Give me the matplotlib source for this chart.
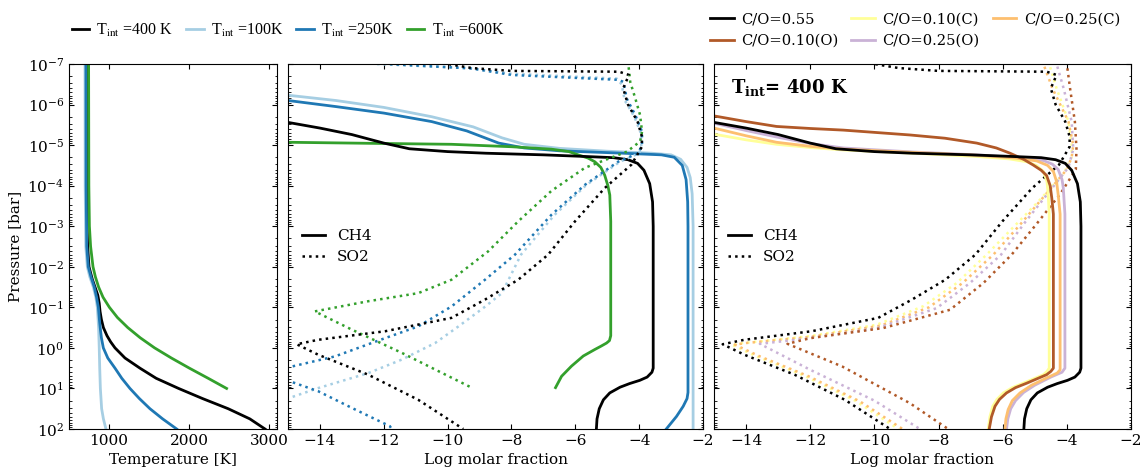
import numpy as np
import matplotlib
matplotlib.use('Agg')
import matplotlib.pyplot as plt
from matplotlib.font_manager import FontProperties
from matplotlib.ticker import LogLocator, NullFormatter

plt.rcParams['font.family'] = 'DejaVu Serif'
plt.rcParams['mathtext.fontset'] = 'dejavuserif'
plt.rcParams['font.size'] = 11

# colours
c_100 = '#a6cee3'
c_250 = '#1f78b4'
c_600 = '#33a02c'
c_10o = '#b15928'
c_10c = '#ffff99'
c_25o = '#cab2d6'
c_25c = '#fdbf6f'

# ---- left panel: T-P profiles (T in K, log10 P in bar)
tp100_T = [700, 702, 710, 729, 760, 804, 835, 854, 870, 878, 884, 892, 908, 930, 962]
tp100_lp = [-7, -4, -2.5, -2.0, -1.75, -1.5, -1.25, -1.0, -0.5, 0, 0.5, 1.0, 1.5, 1.75, 2.0]
tp250_T = [712, 714, 722, 741, 775, 816, 845, 867, 880, 890, 905, 929, 985, 1075, 1160, 1262, 1380, 1512, 1670, 1846]
tp250_lp = [-7, -4, -2.5, -2.0, -1.75, -1.5, -1.25, -1.0, -0.7, -0.5, -0.25, 0, 0.25, 0.5, 0.75, 1.0, 1.25, 1.5, 1.75, 2.0]
tp400_T = [720, 722, 726, 733, 750, 790, 825, 860, 878, 888, 905, 930, 975, 1020, 1075, 1200, 1387, 1590,
           1870, 2170, 2490, 2760, 2950]
tp400_lp = [-7, -4, -3, -2.5, -2.0, -1.7, -1.5, -1.3, -1.1, -0.9, -0.7, -0.5, -0.3, -0.15, 0, 0.25, 0.5, 0.75,
            1.0, 1.25, 1.5, 1.75, 2.0]
tp600_T = [745, 748, 755, 770, 800, 830, 870, 925, 1005, 1105, 1235, 1390, 1570, 1780, 2005, 2240, 2470]
tp600_lp = [-7, -4, -3, -2.5, -2.0, -1.75, -1.5, -1.25, -1.0, -0.75, -0.5, -0.25, 0, 0.25, 0.5, 0.75, 1.0]

# ---- middle panel: CH4 (log molar fraction, log10 P)
ch4_100_x = [-15, -13.5, -12, -10.5, -9.2, -8.3, -7.6, -6.5, -5.0, -3.6, -3.0, -2.7, -2.5, -2.4, -2.34,
             -2.31, -2.31]
ch4_100_lp = [-6.23, -6.1, -5.93, -5.7, -5.45, -5.18, -5.02, -4.92, -4.85, -4.8, -4.76, -4.65, -4.45, -4.2,
              -3.8, -3.0, 2.0]
ch4_250_x = [-15, -13.5, -12, -10.5, -9.4, -8.4, -7.6, -6.5, -4.5, -3.3, -2.9, -2.65, -2.53, -2.48, -2.47,
             -2.47, -2.5, -2.62, -2.83, -3.15]
ch4_250_lp = [-6.1, -5.95, -5.79, -5.58, -5.35, -5.05, -4.93, -4.86, -4.8, -4.76, -4.7, -4.5, -4.15, -3.6,
              -3.0, 1.1, 1.25, 1.44, 1.69, 2.0]
ch4_400_x = [-15, -14, -13, -12, -11.2, -10, -8.8, -7, -5.7, -4.8, -4.35, -4.05, -3.85, -3.67, -3.58, -3.56,
             -3.56, -3.6, -3.75, -3.98, -4.3, -4.6, -4.92, -5.12, -5.25, -5.32, -5.34]
ch4_400_lp = [-5.56, -5.42, -5.26, -5.05, -4.91, -4.84, -4.8, -4.76, -4.72, -4.69, -4.64, -4.55, -4.38,
              -4.05, -3.6, -3.0, 0.5, 0.6, 0.72, 0.8, 0.88, 0.97, 1.11, 1.28, 1.5, 1.75, 2.0]
ch4_600_x = [-15, -12, -9.88, -8, -6.75, -6.2, -5.91, -5.6, -5.39, -5.2, -5.08, -4.98, -4.92, -4.89, -4.89,
             -4.93, -5.02, -5.2, -5.39, -5.75, -6.12, -6.43, -6.62]
ch4_600_lp = [-5.07, -5.04, -5.02, -4.96, -4.9, -4.84, -4.76, -4.68, -4.59, -4.45, -4.26, -4.0, -3.77, -3.12,
              -0.3, -0.18, -0.12, -0.04, 0.04, 0.2, 0.45, 0.7, 0.98]

# ---- middle panel: SO2
so2_400_x = [-11.0, -10.0, -9.24, -8.0, -4.63, -4.32, -4.5, -4.35, -4.05, -3.91, -3.92, -4.24, -5.08, -6.01,
             -6.85, -7.79, -8.83, -9.88, -11.96, -14.05, -14.73, -14.05, -12.49, -10.92, -9.51]
so2_400_lp = [-7.05, -7.0, -6.9, -6.83, -6.81, -6.73, -6.4, -6.0, -5.58, -5.2, -4.95, -4.52, -3.94, -3.12,
              -2.3, -1.68, -1.19, -0.74, -0.41, -0.2, -0.09, 0.17, 0.66, 1.28, 2.0]
so2_250_x = [-12.0, -11.9, -9.24, -8.0, -4.66, -4.49, -4.39, -4.12, -3.91, -3.91, -4.03, -4.66, -5.7, -6.75,
             -7.89, -8.83, -9.88, -10.92, -11.96, -13.53, -15.1, -15.6, -15.1, -14.05, -13.0, -11.81, -11.75]
so2_250_lp = [-7.05, -7.0, -6.89, -6.73, -6.61, -6.56, -6.15, -5.74, -5.33, -5.0, -4.8, -4.59, -4.02, -3.28,
              -2.3, -1.68, -1.02, -0.53, -0.24, 0.21, 0.5, 0.65, 0.78, 1.07, 1.48, 1.93, 2.0]
so2_100_x = [-12.4, -12.3, -9.4, -8.0, -4.7, -4.55, -4.45, -4.15, -3.95, -3.93, -4.0, -4.6, -5.65, -6.65,
             -7.7, -8.3, -8.82, -9.66, -10.39, -11.44, -12.48, -14.05, -14.94, -16.0]
so2_100_lp = [-7.05, -7.0, -6.9, -6.76, -6.64, -6.5, -6.1, -5.7, -5.3, -4.95, -4.8, -4.59, -4.02, -3.28,
              -2.3, -1.35, -1.02, -0.53, -0.12, 0.29, 0.62, 0.99, 1.23, 1.6]
so2_600_x = [-4.45, -4.33, -4.28, -4.12, -3.97, -3.91, -3.97, -4.38, -4.91, -5.7, -6.75, -7.79, -8.73,
             -9.88, -10.92, -12.49, -14.16, -13.0, -11.44, -10.4, -9.3]
so2_600_lp = [-7.05, -6.93, -6.56, -6.15, -5.74, -5.33, -5.09, -4.84, -4.68, -4.44, -3.87, -3.12, -2.38,
              -1.68, -1.35, -1.15, -0.9, -0.45, 0.12, 0.53, 0.96]

# ---- right panel: CH4 for different C/O (Tint = 400 K)
ch4_10o_x = [-15, -14, -13.05, -12, -10.97, -8.89, -7.8, -6.81, -6.2, -5.77, -5.35, -5.05, -4.8, -4.63,
             -4.52, -4.47, -4.42, -4.42, -4.5, -4.63, -5.25, -5.6, -5.88, -6.1, -6.24, -6.35, -6.42]
ch4_10o_lp = [-5.72, -5.58, -5.46, -5.41, -5.37, -5.25, -5.17, -5.05, -4.93, -4.8, -4.65, -4.51, -4.38,
              -4.25, -4.0, -3.7, -3.3, 0.5, 0.58, 0.66, 0.87, 0.98, 1.11, 1.27, 1.44, 1.7, 2.0]
ch4_10c_x = [-15, -14, -13.05, -12, -10.97, -8.8, -6.81, -5.8, -5.25, -4.95, -4.73, -4.62, -4.58, -4.55,
             -4.55, -4.62, -4.73, -5.36, -5.7, -5.98, -6.18, -6.31, -6.4, -6.45]
ch4_10c_lp = [-5.27, -5.13, -5.02, -4.94, -4.88, -4.8, -4.72, -4.66, -4.59, -4.5, -4.35, -4.1, -3.77, -3.3,
              0.5, 0.58, 0.66, 0.87, 0.98, 1.11, 1.27, 1.44, 1.7, 2.0]
ch4_25c_x = [-15, -14, -13.05, -12, -10.97, -8.8, -6.81, -5.6, -4.94, -4.6, -4.42, -4.32, -4.27, -4.21,
             -4.21, -4.3, -4.63, -5.1, -5.46, -5.7, -5.83, -5.9, -5.93]
ch4_25c_lp = [-5.42, -5.23, -5.07, -4.97, -4.9, -4.82, -4.75, -4.68, -4.61, -4.5, -4.35, -4.1, -3.78, -3.3,
              0.54, 0.62, 0.74, 0.92, 1.11, 1.3, 1.52, 1.75, 2.0]
ch4_25o_x = [-15, -14, -13.05, -12, -10.97, -8.8, -6.81, -5.5, -4.73, -4.45, -4.27, -4.15, -4.11, -4.06,
             -4.06, -4.15, -4.5, -5.0, -5.35, -5.6, -5.75, -5.84, -5.88]
ch4_25o_lp = [-5.54, -5.36, -5.2, -5.04, -4.93, -4.83, -4.76, -4.69, -4.62, -4.53, -4.4, -4.15, -3.94, -3.3,
              0.5, 0.6, 0.72, 0.92, 1.1, 1.3, 1.5, 1.75, 2.0]

# ---- right panel: SO2 for different C/O
so2_10c_x = [-4.9, -4.55, -4.32, -3.95, -3.85, -3.85, -4.1, -4.9, -5.7, -6.5, -7.43, -8.47, -9.93, -12.0,
             -14.09, -14.45, -13.7, -12.2, -10.6, -9.25]
so2_10c_lp = [-7.3, -7.0, -6.4, -5.58, -5.0, -4.7, -4.3, -3.6, -2.95, -2.3, -1.6, -1.03, -0.57, -0.29,
              -0.12, -0.08, 0.2, 0.68, 1.3, 2.0]
so2_25c_x = [-5.1, -4.73, -4.45, -3.95, -3.8, -3.85, -4.0, -4.75, -5.5, -6.29, -7.25, -8.3, -9.8, -12.0,
             -14.0, -14.35, -13.6, -12.05, -10.45, -9.12]
so2_25c_lp = [-7.3, -7.0, -6.4, -5.58, -5.0, -4.7, -4.4, -3.7, -3.0, -2.3, -1.6, -1.0, -0.55, -0.27,
              -0.12, -0.08, 0.2, 0.7, 1.32, 2.0]
so2_25o_x = [-4.7, -4.32, -4.1, -3.85, -3.8, -3.95, -4.6, -5.3, -6.05, -7.02, -8.06, -9.9, -12.0, -13.57,
             -12.0, -10.0, -8.58]
so2_25o_lp = [-7.3, -7.0, -6.4, -5.58, -4.9, -4.45, -3.8, -3.1, -2.3, -1.6, -0.98, -0.49, -0.24, -0.1,
              0.54, 1.3, 2.0]
so2_10o_x = [-4.3, -4.0, -3.9, -3.75, -3.7, -3.72, -4.2, -4.95, -5.72, -6.6, -7.64, -9.72, -12.0, -12.71,
             -11.0, -8.9, -7.7]
so2_10o_lp = [-7.3, -7.0, -6.4, -5.58, -4.92, -4.4, -3.8, -3.05, -2.3, -1.6, -0.94, -0.49, -0.24, -0.1,
              0.46, 1.36, 2.0]


def P(lp):
    return 10 ** np.array(lp)


fig = plt.figure(figsize=(11.41, 4.68), dpi=100)
ax1 = fig.add_axes([69 / 1141, 39 / 468, 208 / 1141, 365 / 468])
ax2 = fig.add_axes([288 / 1141, 39 / 468, 415 / 1141, 365 / 468])
ax3 = fig.add_axes([714 / 1141, 39 / 468, 417 / 1141, 365 / 468])

lw = 2.0
dot = dict(ls=':', lw=1.8)

# left
l400, = ax1.plot(tp400_T, P(tp400_lp), color='k', lw=lw)
l100, = ax1.plot(tp100_T, P(tp100_lp), color=c_100, lw=lw)
l250, = ax1.plot(tp250_T, P(tp250_lp), color=c_250, lw=lw)
l600, = ax1.plot(tp600_T, P(tp600_lp), color=c_600, lw=lw)
ax1.set_xlim(500, 3100)
ax1.set_xticks([1000, 2000, 3000])
ax1.set_xlabel('Temperature [K]')
ax1.set_ylabel('Pressure [bar]')

# middle
ax2.plot(ch4_100_x, P(ch4_100_lp), color=c_100, lw=lw)
ax2.plot(ch4_250_x, P(ch4_250_lp), color=c_250, lw=lw)
ax2.plot(ch4_600_x, P(ch4_600_lp), color=c_600, lw=lw)
ax2.plot(ch4_400_x, P(ch4_400_lp), color='k', lw=lw)
ax2.plot(so2_100_x, P(so2_100_lp), color=c_100, **dot)
ax2.plot(so2_250_x, P(so2_250_lp), color=c_250, **dot)
ax2.plot(so2_600_x, P(so2_600_lp), color=c_600, **dot)
ax2.plot(so2_400_x, P(so2_400_lp), color='k', **dot)

# right
ax3.plot(so2_10c_x, P(so2_10c_lp), color=c_10c, **dot)
ax3.plot(so2_25c_x, P(so2_25c_lp), color=c_25c, **dot)
ax3.plot(so2_25o_x, P(so2_25o_lp), color=c_25o, **dot)
ax3.plot(so2_10o_x, P(so2_10o_lp), color=c_10o, **dot)
ax3.plot(so2_400_x, P(so2_400_lp), color='k', **dot)
r10c, = ax3.plot(ch4_10c_x, P(ch4_10c_lp), color=c_10c, lw=lw)
r25o, = ax3.plot(ch4_25o_x, P(ch4_25o_lp), color=c_25o, lw=lw)
r25c, = ax3.plot(ch4_25c_x, P(ch4_25c_lp), color=c_25c, lw=lw)
r10o, = ax3.plot(ch4_10o_x, P(ch4_10o_lp), color=c_10o, lw=lw)
r055, = ax3.plot(ch4_400_x, P(ch4_400_lp), color='k', lw=lw)
ax3.text(0.04, 0.935, r'$\mathbf{T_{int}}$= 400 K', transform=ax3.transAxes,
         fontsize=13, fontweight='bold', va='center', ha='left')

for ax in (ax1, ax2, ax3):
    ax.set_yscale('log')
    ax.set_ylim(1e2, 1e-7)
    ax.yaxis.set_major_locator(LogLocator(base=10, numticks=20))
    ax.yaxis.set_minor_locator(LogLocator(base=10, subs=np.arange(2, 10), numticks=20))
    ax.yaxis.set_minor_formatter(NullFormatter())
    ax.tick_params(which='both', direction='in', top=True, right=True, labelsize=11)
    ax.tick_params(which='major', length=3.5)
    ax.tick_params(which='minor', length=1.8)
for ax in (ax2, ax3):
    ax.set_xlim(-15, -2)
    ax.set_xticks([-14, -12, -10, -8, -6, -4, -2])
    ax.set_xlabel('Log molar fraction')
    ax.tick_params(axis='y', which='both', labelleft=False)
    h1, = ax.plot([], [], color='k', lw=lw)
    h2, = ax.plot([], [], color='k', **dot)
    ax.legend([h1, h2], ['CH4', 'SO2'], loc='center left', bbox_to_anchor=(0.0, 0.5),
              frameon=False, handlelength=1.5, fontsize=11, labelspacing=0.45)

fp_t = FontProperties(family='Liberation Serif', size=11.5, math_fontfamily='stix')
fig.legend([l400, l100, l250, l600],
           [r'T$_{\rm int}$ =400 K', r'T$_{\rm int}$ =100K', r'T$_{\rm int}$ =250K', r'T$_{\rm int}$ =600K'],
           loc='center', bbox_to_anchor=(288 / 1141, 1 - 30 / 468), ncol=4, frameon=False,
           prop=fp_t, handlelength=1.1, columnspacing=0.8, handletextpad=0.45)
fig.legend([r055, r10o, r10c, r25o, r25c],
           ['C/O=0.55', 'C/O=0.10(O)', 'C/O=0.10(C)', 'C/O=0.25(O)', 'C/O=0.25(C)'],
           loc='center', bbox_to_anchor=(915 / 1141, 1 - 30 / 468), ncol=3, frameon=False,
           fontsize=10.6, handlelength=1.6, columnspacing=0.9, handletextpad=0.5, labelspacing=0.5)

fig.savefig('out.png', dpi=100)
